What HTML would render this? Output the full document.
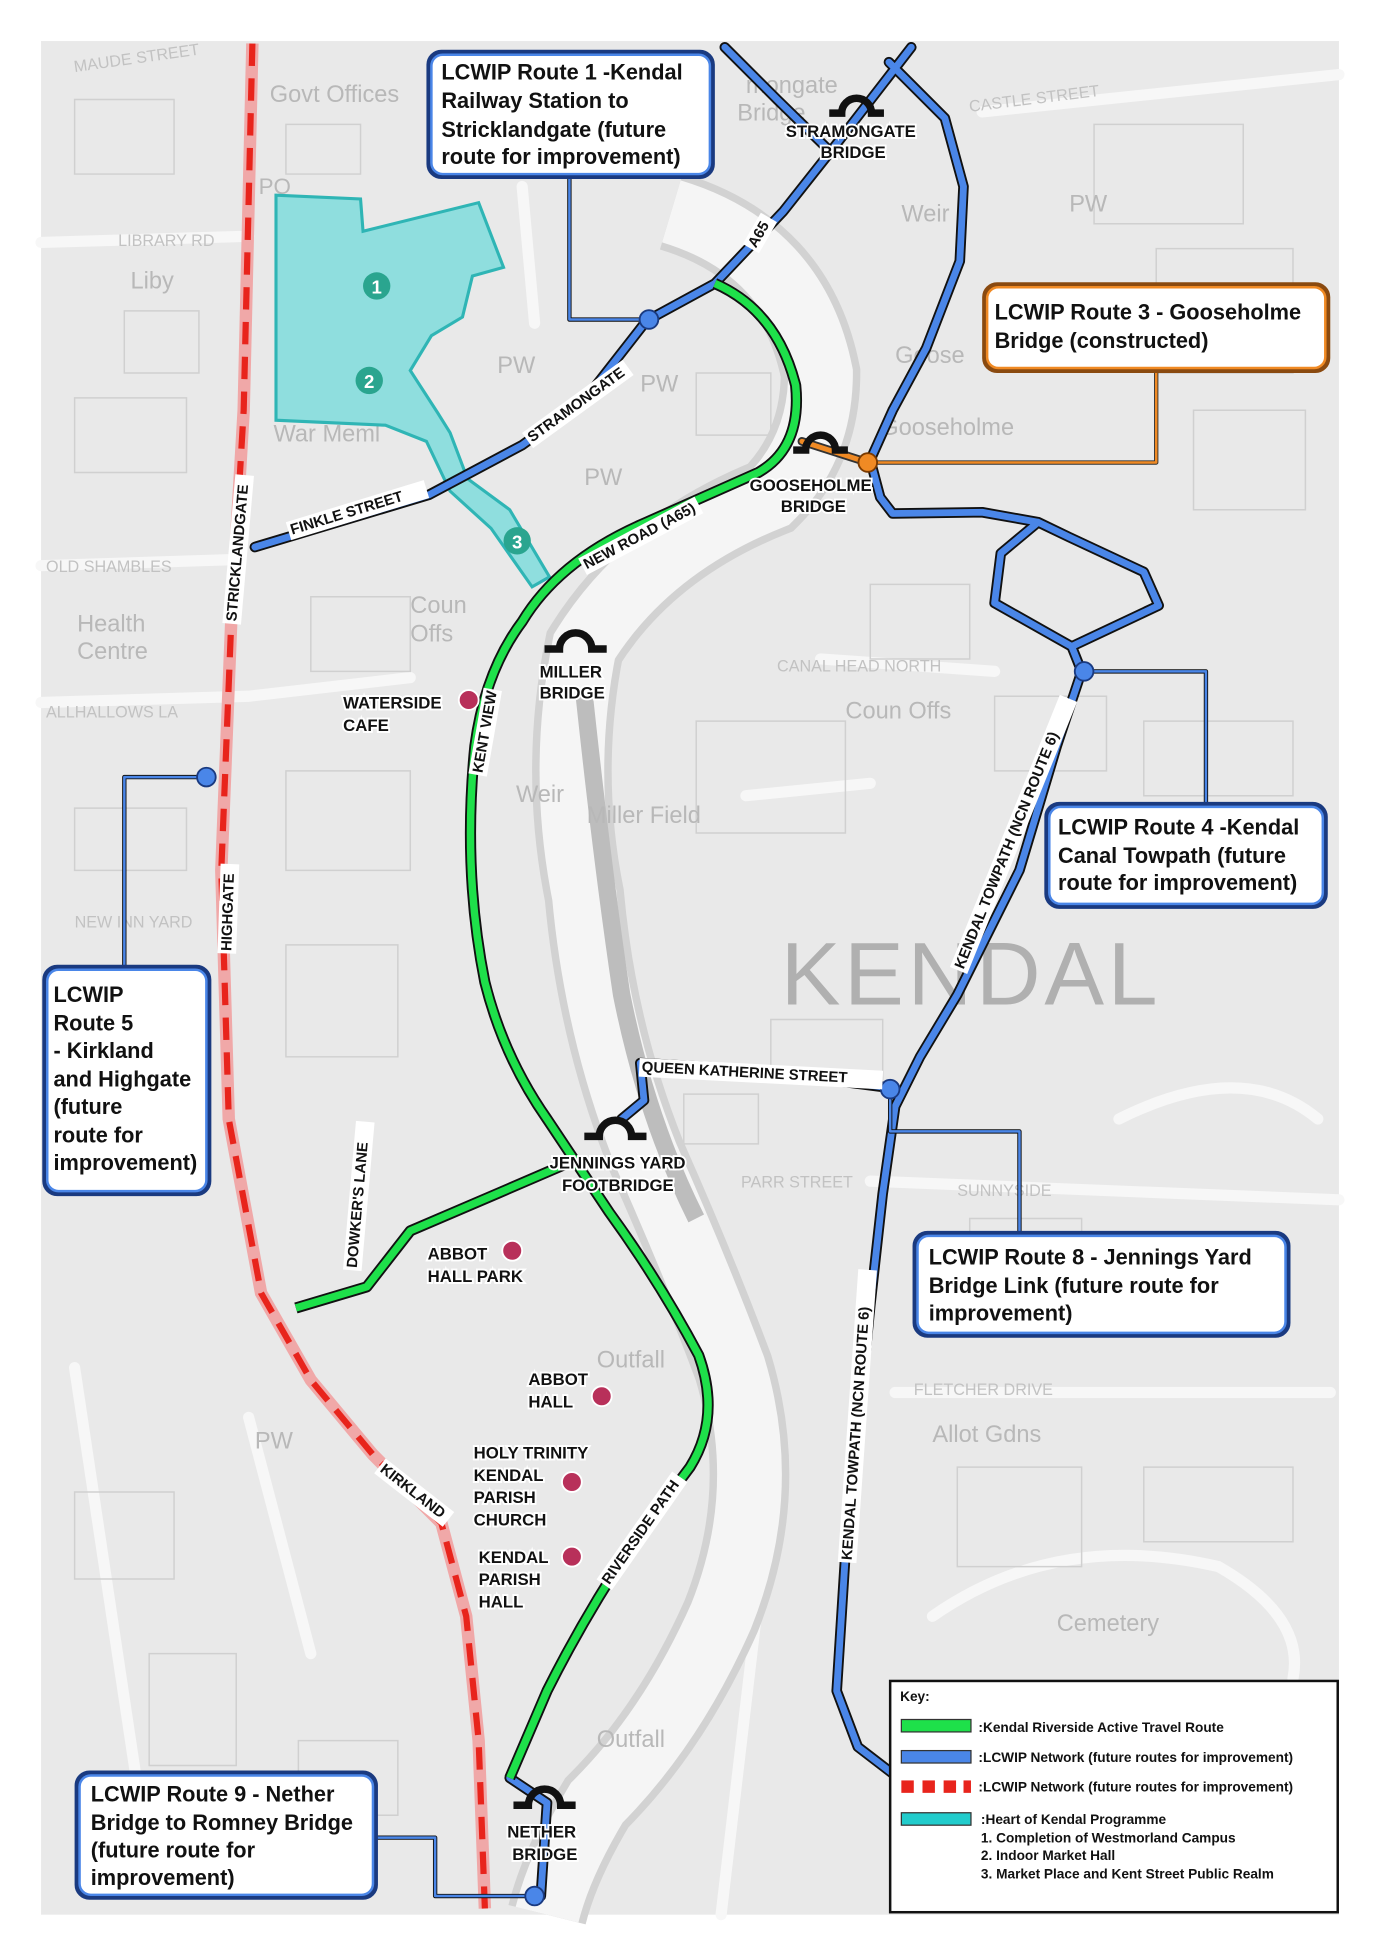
<!DOCTYPE html>
<html><head><meta charset="utf-8"><style>
html,body{margin:0;padding:0;background:#fff}
svg{display:block}
text{font-family:"Liberation Sans",Arial,sans-serif}
</style></head><body>
<svg width="1380" height="1952" viewBox="0 0 1110 1570" preserveAspectRatio="none" xmlns="http://www.w3.org/2000/svg">
<rect x="0" y="0" width="1110" height="1570" fill="#fff"/>
<rect x="33" y="33" width="1044" height="1507" fill="#e9e9e9"/>
<g stroke="#f7f7f7" stroke-width="9" fill="none" stroke-linecap="round">
<path d="M33 455 L190 450"/><path d="M33 565 L200 560 L330 545"/>
<path d="M660 530 L800 540"/><path d="M600 640 L700 630"/>
<path d="M700 950 L1077 965"/><path d="M720 1120 L1070 1120"/>
<path d="M790 90 L1077 60"/><path d="M33 195 L200 190"/>
<path d="M420 150 L430 260"/><path d="M750 1300 Q850 1230 980 1260 Q1050 1300 1040 1350"/>
<path d="M200 1140 L250 1330"/><path d="M60 1100 L120 1500"/>
<path d="M620 1200 L580 1540"/><path d="M900 900 Q1000 850 1060 900"/>
</g>
<g stroke="#d0d0d0" stroke-width="1.2" fill="none">
<path d="M60 80 h80 v60 h-80z M230 100 h60 v40 h-60z M100 250 h60 v50 h-60z M60 320 h90 v60 h-90z M250 480 h80 v60 h-80z M230 620 h100 v80 h-100z M60 650 h90 v50 h-90z M230 760 h90 v90 h-90z M560 300 h60 v50 h-60z M700 470 h80 v60 h-80z M560 580 h120 v90 h-120z M800 560 h90 v60 h-90z M920 580 h120 v60 h-120z M880 100 h120 v80 h-120z M930 200 h110 v100 h-110z M960 330 h90 v80 h-90z M780 980 h90 v60 h-90z M900 1000 h130 v50 h-130z M770 1180 h100 v80 h-100z M920 1180 h120 v60 h-120z M60 1200 h80 v70 h-80z M120 1330 h70 v90 h-70z M240 1400 h80 v60 h-80z M620 820 h90 v50 h-90z M550 880 h60 v40 h-60z"/>
</g>
<path d="M540 170 Q640 200 660 300 Q660 360 620 400 Q520 440 470 520 Q450 620 470 720 Q480 830 520 930 Q560 1020 590 1100 Q620 1200 580 1300 Q540 1390 480 1450 Q450 1500 440 1540" stroke="#d2d2d2" stroke-width="64" fill="none"/>
<path d="M540 170 Q640 200 660 300 Q660 360 620 400 Q520 440 470 520 Q450 620 470 720 Q480 830 520 930 Q560 1020 590 1100 Q620 1200 580 1300 Q540 1390 480 1450 Q450 1500 440 1540" stroke="#f5f5f5" stroke-width="52" fill="none"/>
<path d="M470 560 Q485 700 500 800 Q520 900 560 980" stroke="#bdbdbd" stroke-width="14" fill="none"/>
<g fill="#b8b8b8" font-size="19">
<text x="217" y="82">Govt Offices</text><text x="105" y="232">Liby</text>
<text x="62" y="508">Health</text><text x="62" y="530">Centre</text>
<text x="330" y="493">Coun</text><text x="330" y="516">Offs</text>
<text x="680" y="578">Coun Offs</text><text x="472" y="662">Miller Field</text>
<text x="720" y="292">Goose</text><text x="708" y="350">Gooseholme</text>
<text x="750" y="1160">Allot Gdns</text><text x="850" y="1312">Cemetery</text>
<text x="725" y="178">Weir</text><text x="415" y="645">Weir</text>
<text x="480" y="1100">Outfall</text><text x="480" y="1405">Outfall</text>
<text x="208" y="156" font-size="18">PO</text><text x="860" y="170">PW</text>
<text x="400" y="300">PW</text><text x="470" y="390">PW</text><text x="515" y="315">PW</text>
<text x="205" y="1165">PW</text><text x="220" y="355">War Meml</text>
<text x="600" y="75">mongate</text><text x="593" y="97">Bridge</text>
<text x="220" y="223">he Westmorland</text><text x="220" y="248">Shopping Centre</text>
</g>
<g fill="#c2c2c2" font-size="13">
<text x="60" y="58" transform="rotate(-8 60 58)">MAUDE STREET</text>
<text x="95" y="198">LIBRARY RD</text><text x="37" y="460">OLD SHAMBLES</text>
<text x="37" y="577">ALLHALLOWS LA</text><text x="60" y="746">NEW INN YARD</text>
<text x="625" y="540">CANAL HEAD NORTH</text><text x="596" y="955">PARR STREET</text>
<text x="770" y="962">SUNNYSIDE</text><text x="735" y="1122">FLETCHER DRIVE</text>
<text x="780" y="90" transform="rotate(-7 780 90)">CASTLE STREET</text>
</g>
<text x="628" y="808" font-size="72" fill="#b0b0b0" letter-spacing="3">KENDAL</text>
<path d="M222 157 L290 160 L292 186 L385 163 L405 215 L380 222 L372 255 L347 270 L330 298 L352 332 L362 348 L376 385 L410 410 L442 464 L428 472 L395 425 L362 395 L343 355 L310 342 L222 338 Z" fill="#8fdede" stroke="#2fb5b5" stroke-width="2.5"/>
<g font-size="15" font-weight="bold" fill="#fff" text-anchor="middle">
<circle cx="303" cy="230" r="11" fill="#2aa58f"/><text x="303" y="236">1</text>
<circle cx="297" cy="306" r="11" fill="#2aa58f"/><text x="297" y="312">2</text>
<circle cx="416" cy="435" r="11" fill="#2aa58f"/><text x="416" y="441">3</text>
</g>
<path d="M203 35 L196 330 L186 500 L178 700 L184 900 L210 1040 L250 1110 L300 1170 L355 1225 L375 1300 L385 1400 L390 1535" stroke="#f0a8a8" stroke-width="10" fill="none"/>
<path d="M203 35 L196 330 L186 500 L178 700 L184 900 L210 1040 L250 1110 L300 1170 L355 1225 L375 1300 L385 1400 L390 1535" stroke="#e8241c" stroke-width="5" stroke-dasharray="18 10" fill="none"/>
<g fill="none" stroke-linejoin="round" stroke-linecap="round">
<g stroke="#111" stroke-width="8.5">
<path d="M205 440 L345 398 L420 358 L470 322 L520 258 L575 228 L630 170 L668 122 L733 38"/>
<path d="M583 38 L625 80 L668 122"/>
<path d="M715 50 L760 95 L775 150 L772 210 L745 280 L718 330 L700 370"/>
<path d="M700 370 L708 400 L718 413 L790 412 L835 420 L805 445 L800 485 L862 520 L932 487 L920 460 L860 432 L835 420"/>
<path d="M862 520 L870 540 L850 600 L820 700 L770 800 L740 850 L720 890 L710 960 L700 1050 L690 1150 L680 1250 L673 1360 L690 1405 L720 1428"/>
<path d="M410 1430 L440 1450 L435 1525"/>
<path d="M716 875 L600 860 L515 855 L518 885 L500 900"/>
</g>
<g stroke="#4a86e8" stroke-width="5.5">
<path d="M205 440 L345 398 L420 358 L470 322 L520 258 L575 228 L630 170 L668 122 L733 38"/>
<path d="M583 38 L625 80 L668 122"/>
<path d="M715 50 L760 95 L775 150 L772 210 L745 280 L718 330 L700 370"/>
<path d="M700 370 L708 400 L718 413 L790 412 L835 420 L805 445 L800 485 L862 520 L932 487 L920 460 L860 432 L835 420"/>
<path d="M862 520 L870 540 L850 600 L820 700 L770 800 L740 850 L720 890 L710 960 L700 1050 L690 1150 L680 1250 L673 1360 L690 1405 L720 1428"/>
<path d="M410 1430 L440 1450 L435 1525"/>
<path d="M716 875 L600 860 L515 855 L518 885 L500 900"/>
</g>
<g stroke="#111" stroke-width="3.5"><path d="M458 140 L458 257 L522 257"/><path d="M100 778 L100 625 L166 625"/><path d="M872 540 L970 540 L970 648"/><path d="M716 876 L716 910 L820 910 L820 993"/><path d="M300 1478 L350 1478 L350 1525 L430 1525"/></g>
<g stroke="#4a86e8" stroke-width="2"><path d="M458 140 L458 257 L522 257"/><path d="M100 778 L100 625 L166 625"/><path d="M872 540 L970 540 L970 648"/><path d="M716 876 L716 910 L820 910 L820 993"/><path d="M300 1478 L350 1478 L350 1525 L430 1525"/></g>
<path d="M930 298 L930 372 L698 372" stroke="#333" stroke-width="3.5"/><path d="M930 298 L930 372 L698 372" stroke="#f08a24" stroke-width="2"/>
<path d="M645 355 L698 372" stroke="#333" stroke-width="7"/><path d="M645 355 L698 372" stroke="#f08a24" stroke-width="4"/>
</g>
<g fill="none" stroke-linejoin="round">
<path d="M575 228 Q625 250 640 310 Q645 360 610 380 L520 420 Q450 450 420 500 Q390 540 382 600 Q372 700 390 790 Q405 850 440 900 L490 975 Q530 1030 562 1090 Q580 1140 555 1180 L510 1240 Q470 1300 440 1360 L410 1430 M465 932 L400 960 L330 990 L295 1035 L238 1052" stroke="#111" stroke-width="9"/>
<path d="M575 228 Q625 250 640 310 Q645 360 610 380 L520 420 Q450 450 420 500 Q390 540 382 600 Q372 700 390 790 Q405 850 440 900 L490 975 Q530 1030 562 1090 Q580 1140 555 1180 L510 1240 Q470 1300 440 1360 L410 1430 M465 932 L400 960 L330 990 L295 1035 L238 1052" stroke="#1ee04a" stroke-width="6"/>
</g>
<g fill="#4a86e8" stroke="#1a3a80" stroke-width="1.5">
<circle cx="522" cy="257" r="7.5"/><circle cx="166" cy="625" r="7.5"/><circle cx="872" cy="540" r="7.5"/><circle cx="716" cy="876" r="7.5"/><circle cx="430" cy="1525" r="7.5"/>
</g>
<circle cx="698" cy="372" r="7.5" fill="#f08a24" stroke="#7a3a00" stroke-width="1.5"/>
<g fill="#b8305a" stroke="#fff" stroke-width="1.5">
<circle cx="377" cy="563" r="8"/><circle cx="412" cy="1006" r="8"/><circle cx="484" cy="1123" r="8"/><circle cx="460" cy="1192" r="8"/><circle cx="460" cy="1252" r="8"/>
</g>
<!-- bridge icons: arches -->
<g fill="none" stroke="#111" stroke-width="6">
<path d="M667 91 h10 a12 12 0 0 1 24 0 h10"/>
<path d="M638 362 h10 a12 12 0 0 1 24 0 h10"/>
<path d="M438 522 h12 a13 13 0 0 1 26 0 h12"/>
<path d="M470 914 h12 a13 13 0 0 1 26 0 h12"/>
<path d="M413 1452 h12 a13 13 0 0 1 26 0 h12"/>
</g>
<g font-size="13.5" font-weight="bold" fill="#111" stroke="#fff" stroke-width="3" paint-order="stroke">
<text x="632" y="110">STRAMONGATE</text><text x="660" y="127">BRIDGE</text>
<text x="603" y="395">GOOSEHOLME</text><text x="628" y="412">BRIDGE</text>
<text x="434" y="545">MILLER</text><text x="434" y="562">BRIDGE</text>
<text x="276" y="570">WATERSIDE</text><text x="276" y="588">CAFE</text>
<text x="442" y="940">JENNINGS YARD</text><text x="452" y="958">FOOTBRIDGE</text>
<text x="344" y="1013">ABBOT</text><text x="344" y="1031">HALL PARK</text>
<text x="425" y="1114">ABBOT</text><text x="425" y="1132">HALL</text>
<text x="381" y="1173">HOLY TRINITY</text><text x="381" y="1191">KENDAL</text><text x="381" y="1209">PARISH</text><text x="381" y="1227">CHURCH</text>
<text x="385" y="1257">KENDAL</text><text x="385" y="1275">PARISH</text><text x="385" y="1293">HALL</text>
<text x="408" y="1478">NETHER</text><text x="412" y="1496">BRIDGE</text>
</g>
<g font-size="12" font-weight="bold" fill="#111">
<g transform="translate(235 430) rotate(-17)"><rect x="-2" y="-11" width="116" height="15" fill="#fff"/><text x="0" y="0">FINKLE STREET</text></g>
<g transform="translate(428 356) rotate(-36)"><rect x="-2" y="-11" width="100" height="15" fill="#fff"/><text x="0" y="0">STRAMONGATE</text></g>
<g transform="translate(608 200) rotate(-60)"><rect x="-2" y="-11" width="29" height="15" fill="#fff"/><text x="0" y="0">A65</text></g>
<g transform="translate(472 458) rotate(-28)"><rect x="-2" y="-11" width="106" height="15" fill="#fff"/><text x="0" y="0">NEW ROAD (A65)</text></g>
<g transform="translate(190 500) rotate(-85)"><rect x="-2" y="-11" width="120" height="15" fill="#fff"/><text x="0" y="0">STRICKLANDGATE</text></g>
<g transform="translate(186 765) rotate(-88)"><rect x="-2" y="-11" width="72" height="15" fill="#fff"/><text x="0" y="0">HIGHGATE</text></g>
<g transform="translate(287 1020) rotate(-85)"><rect x="-2" y="-11" width="120" height="15" fill="#fff"/><text x="0" y="0">DOWKER'S LANE</text></g>
<g transform="translate(388 622) rotate(-80)"><rect x="-2" y="-11" width="70" height="15" fill="#fff"/><text x="0" y="0">KENT VIEW</text></g>
<g transform="translate(516 862) rotate(3)"><rect x="-2" y="-11" width="196" height="15" fill="#fff"/><text x="0" y="0">QUEEN KATHERINE STREET</text></g>
<g transform="translate(305 1183) rotate(38)"><rect x="-2" y="-11" width="70" height="15" fill="#fff"/><text x="0" y="0">KIRKLAND</text></g>
<g transform="translate(490 1275) rotate(-55)"><rect x="-2" y="-11" width="106" height="15" fill="#fff"/><text x="0" y="0">RIVERSIDE PATH</text></g>
<g transform="translate(775 780) rotate(-68)"><rect x="-2" y="-11" width="236" height="15" fill="#fff"/><text x="0" y="0">KENDAL TOWPATH (NCN ROUTE 6)</text></g>
<g transform="translate(685 1255) rotate(-86)"><rect x="-2" y="-11" width="236" height="15" fill="#fff"/><text x="0" y="0">KENDAL TOWPATH (NCN ROUTE 6)</text></g>
</g>
<g font-size="17.5" font-weight="bold" fill="#111">
<rect x="345" y="42" width="228" height="100" rx="10" fill="#fff" stroke="#1a3a80" stroke-width="4"/>
<rect x="347" y="44" width="224" height="96" rx="9" fill="none" stroke="#4a86e8" stroke-width="2"/>
<text x="355" y="64">LCWIP Route 1 -Kendal</text><text x="355" y="87">Railway Station to</text><text x="355" y="110">Stricklandgate (future</text><text x="355" y="132">route for improvement)</text>
<rect x="792" y="229" width="276" height="69" rx="10" fill="#fff" stroke="#8a4a10" stroke-width="4"/>
<rect x="794" y="231" width="272" height="65" rx="9" fill="none" stroke="#f08a24" stroke-width="2"/>
<text x="800" y="257">LCWIP Route 3 - Gooseholme</text><text x="800" y="280">Bridge (constructed)</text>
<rect x="842" y="647" width="224" height="82" rx="10" fill="#fff" stroke="#1a3a80" stroke-width="4"/>
<rect x="844" y="649" width="220" height="78" rx="9" fill="none" stroke="#4a86e8" stroke-width="2"/>
<text x="851" y="671">LCWIP Route 4 -Kendal</text><text x="851" y="694">Canal Towpath (future</text><text x="851" y="716">route for improvement)</text>
<rect x="36" y="778" width="132" height="182" rx="10" fill="#fff" stroke="#1a3a80" stroke-width="4"/>
<rect x="38" y="780" width="128" height="178" rx="9" fill="none" stroke="#4a86e8" stroke-width="2"/>
<text x="43" y="806">LCWIP</text><text x="43" y="829">Route 5</text><text x="43" y="851">- Kirkland</text><text x="43" y="874">and Highgate</text><text x="43" y="896">(future</text><text x="43" y="919">route for</text><text x="43" y="941">improvement)</text>
<rect x="736" y="992" width="300" height="82" rx="10" fill="#fff" stroke="#1a3a80" stroke-width="4"/>
<rect x="738" y="994" width="296" height="78" rx="9" fill="none" stroke="#4a86e8" stroke-width="2"/>
<text x="747" y="1017">LCWIP Route 8 - Jennings Yard</text><text x="747" y="1040">Bridge Link (future route for</text><text x="747" y="1062">improvement)</text>
<rect x="62" y="1426" width="240" height="100" rx="10" fill="#fff" stroke="#1a3a80" stroke-width="4"/>
<rect x="64" y="1428" width="236" height="96" rx="9" fill="none" stroke="#4a86e8" stroke-width="2"/>
<text x="73" y="1449">LCWIP Route 9 - Nether</text><text x="73" y="1472">Bridge to Romney Bridge</text><text x="73" y="1494">(future route for</text><text x="73" y="1516">improvement)</text>
</g>
<rect x="716" y="1352" width="360" height="186" fill="#fff" stroke="#111" stroke-width="2"/>
<g font-size="11" font-weight="bold" fill="#111">
<text x="724" y="1368">Key:</text>
<rect x="725" y="1383" width="56" height="10" fill="#1ee04a" stroke="#333"/><text x="787" y="1393">:Kendal Riverside Active Travel Route</text>
<rect x="725" y="1408" width="56" height="10" fill="#4a86e8" stroke="#333"/><text x="787" y="1417">:LCWIP Network (future routes for improvement)</text>
<g fill="#e8241c"><rect x="725" y="1432" width="10" height="10"/><rect x="742" y="1432" width="10" height="10"/><rect x="759" y="1432" width="10" height="10"/><rect x="775" y="1432" width="6" height="10"/></g>
<text x="787" y="1441">:LCWIP Network (future routes for improvement)</text>
<rect x="725" y="1458" width="56" height="10" fill="#22cccc" stroke="#333"/><text x="789" y="1467">:Heart of Kendal Programme</text>
<text x="789" y="1482">1. Completion of Westmorland Campus</text>
<text x="789" y="1496">2. Indoor Market Hall</text>
<text x="789" y="1511">3. Market Place and Kent Street Public Realm</text>
</g>
</svg>
</body></html>
